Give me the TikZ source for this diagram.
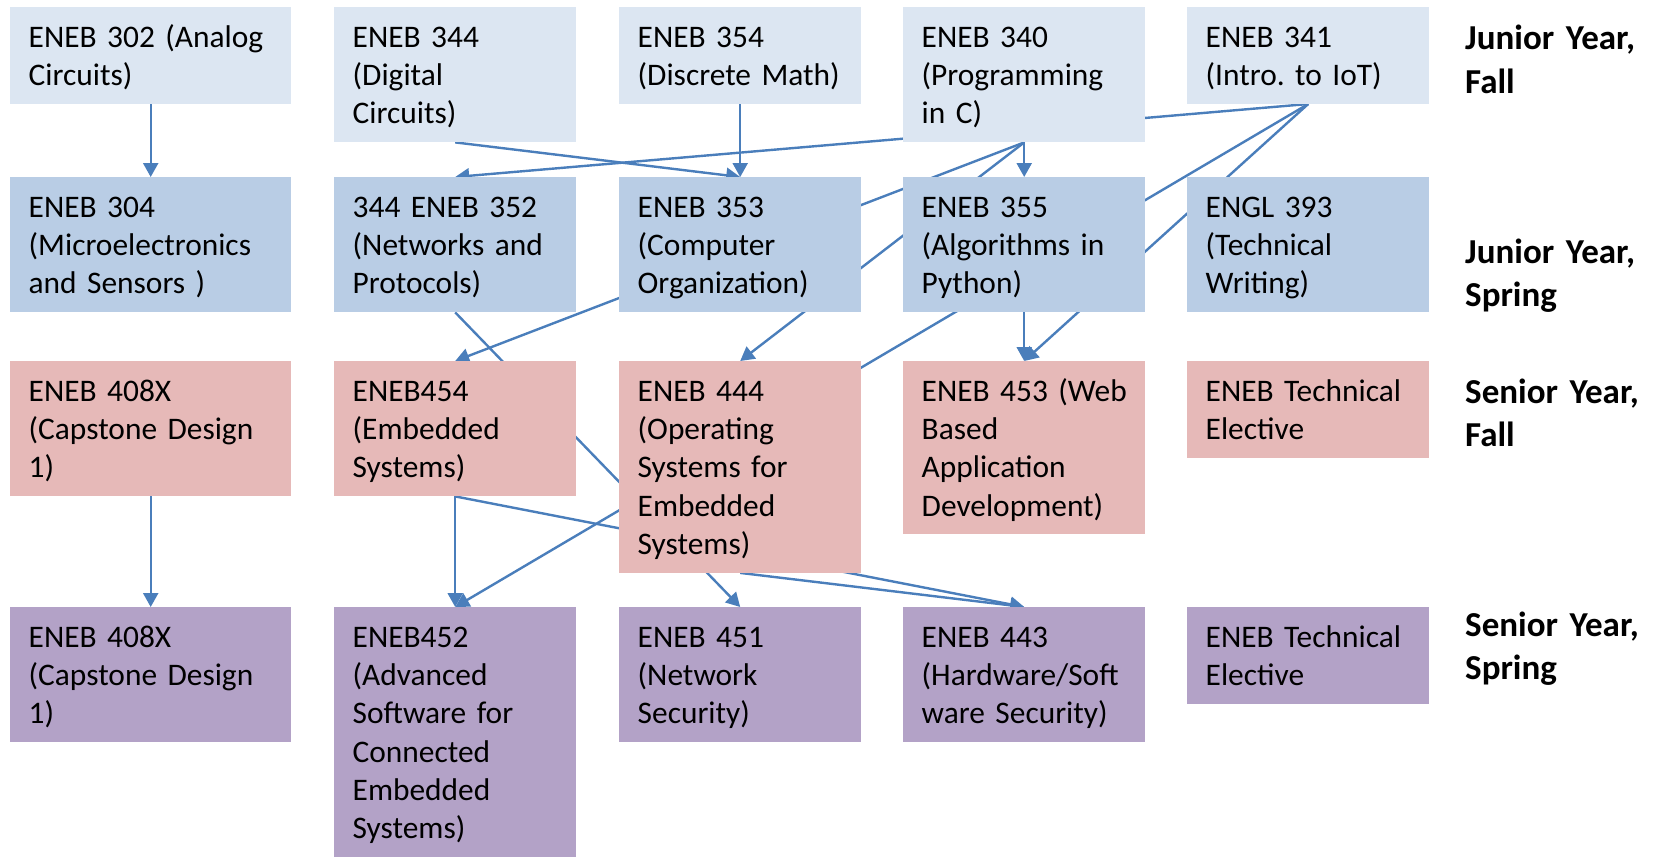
\documentclass[tikz,border=0pt]{standalone}
\usepackage{fontspec}
\setmainfont{Carlito}
\usetikzlibrary{arrows.meta}
\pgfdeclarelayer{bg}
\pgfsetlayers{bg,main}
\definecolor{cA}{HTML}{DCE6F2}
\definecolor{cB}{HTML}{B9CDE5}
\definecolor{cC}{HTML}{E6B9B8}
\definecolor{cD}{HTML}{B3A2C7}
\definecolor{lnc}{HTML}{4A7EBB}
\newcommand\li[1]{\mbox{#1}}
\frenchspacing
\begin{document}
\begin{tikzpicture}[x=1pt,y=-1pt,
  course/.style={rectangle, anchor=north west, inner xsep=18.5pt, inner ysep=0pt,
    text height=40pt, align=left, text width=205pt,
    font=\fontsize{31.4}{38.3}\selectfont\frenchspacing},
  wide/.style={text width=244pt},
  Ltwo/.style={text depth=56.6pt},
  Lthree/.style={text depth=95pt},
  Lfour/.style={text depth=133.2pt},
  Lfive/.style={text depth=171.5pt},
  Lsix/.style={text depth=209.8pt},
  rowA/.style={course, fill=cA},
  rowB/.style={course, fill=cB},
  rowC/.style={course, fill=cC},
  rowD/.style={course, fill=cD},
  conn/.style={draw=lnc, line width=2.4pt, -{Triangle[length=14pt,width=15pt]}},
  yearlbl/.style={anchor=base west, inner sep=0pt, align=left, text width=190pt,
    font=\fontsize{35}{43.3}\selectfont\bfseries}]
\useasboundingbox (0,0) rectangle (1661,856);

% Row 1
\node[rowA, wide, Ltwo] (a302) at (10,7) {\li{ENEB 302 (Analog}\\\li{Circuits)}};
\node[rowA, Lthree] (a344) at (334,7) {\li{ENEB 344}\\\li{(Digital}\\\li{Circuits)}};
\node[rowA, Ltwo] (a354) at (619,7) {\li{ENEB 354}\\\li{(Discrete Math)}};
\node[rowA, Lthree] (a340) at (903,7) {\li{ENEB 340}\\\li{(Programming}\\\li{in C)}};
\node[rowA, Ltwo] (a341) at (1187,7) {\li{ENEB 341}\\\li{(Intro. to IoT)}};

% Row 2
\node[rowB, wide, Lthree] (b304) at (10,177) {\li{ENEB 304}\\\li{(Microelectronics}\\\li{and Sensors )}};
\node[rowB, Lthree] (b352) at (334,177) {\li{344 ENEB 352}\\\li{(Networks and}\\\li{Protocols)}};
\node[rowB, Lthree] (b353) at (619,177) {\li{ENEB 353}\\\li{(Computer}\\\li{Organization)}};
\node[rowB, Lthree] (b355) at (903,177) {\li{ENEB 355}\\\li{(Algorithms in}\\\li{Python)}};
\node[rowB, Lthree] (b393) at (1187,177) {\li{ENGL 393}\\\li{(Technical}\\\li{Writing)}};

% Row 3
\node[rowC, wide, Lthree] (c408) at (10,361) {\li{ENEB 408X}\\\li{(Capstone Design}\\\li{1)}};
\node[rowC, Lthree] (c454) at (334,361) {\li{ENEB454}\\\li{(Embedded}\\\li{Systems)}};
\node[rowC, Lfive] (c444) at (619,361) {\li{ENEB 444}\\\li{(Operating}\\\li{Systems for}\\\li{Embedded}\\\li{Systems)}};
\node[rowC, Lfour] (c453) at (903,361) {\li{ENEB 453 (Web}\\\li{Based}\\\li{Application}\\\li{Development)}};
\node[rowC, Ltwo] (c5) at (1187,361) {\li{ENEB Technical}\\\li{Elective}};

% Row 4
\node[rowD, wide, Lthree] (d408) at (10,607) {\li{ENEB 408X}\\\li{(Capstone Design}\\\li{1)}};
\node[rowD, Lsix] (d452) at (334,607) {\li{ENEB452}\\\li{(Advanced}\\\li{Software for}\\\li{Connected}\\\li{Embedded}\\\li{Systems)}};
\node[rowD, Lthree] (d451) at (619,607) {\li{ENEB 451}\\\li{(Network}\\\li{Security)}};
\node[rowD, Lthree] (d443) at (903,607) {\li{ENEB 443}\\\li{(Hardware/Soft}\\\li{ware Security)}};
\node[rowD, Ltwo] (d5) at (1187,607) {\li{ENEB Technical}\\\li{Elective}};

% Year labels
\node[yearlbl] (y1) at (1465,50) {\li{Junior Year,}\\\li{Fall}};
\node[yearlbl] (y2) at (1465,263) {\li{Junior Year,}\\\li{Spring}};
\node[yearlbl] (y3) at (1465,403) {\li{Senior Year,}\\\li{Fall}};
\node[yearlbl] (y4) at (1465,636) {\li{Senior Year,}\\\li{Spring}};

% Connectors (behind boxes)
\begin{pgfonlayer}{bg}
\draw[conn] (a302.south) -- (b304.north);
\draw[conn] (a344.south) -- (b353.north);
\draw[conn] (a354.south) -- (b353.north);
\draw[conn] (a341.south) -- (b352.north);
\draw[conn] (a341.south) -- (c453.north);
\draw[conn] (a341.south) -- (d452.north);
\draw[conn] (a340.south) -- (b355.north);
\draw[conn] (a340.south) -- (c454.north);
\draw[conn] (a340.south) -- (c444.north);
\draw[conn] (b355.south) -- (c453.north);
\draw[conn] (b352.south) -- (d451.north);
\draw[conn] (c454.south) -- (d452.north);
\draw[conn] (c454.south) -- (d443.north);
\draw[conn] (c444.south) -- (d443.north);
\draw[conn] (c408.south) -- (d408.north);
\end{pgfonlayer}
\end{tikzpicture}
\end{document}
